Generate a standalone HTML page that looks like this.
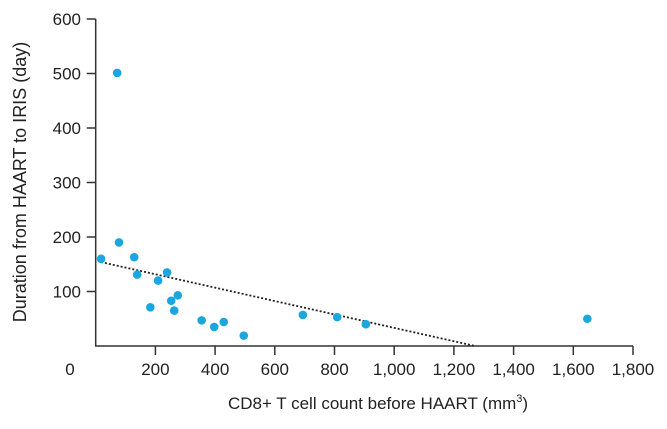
<!DOCTYPE html>
<html><head><meta charset="utf-8"><style>
body{margin:0;background:#fff}
svg text{font-family:"Liberation Sans",sans-serif;fill:#222}
</style></head><body>
<svg id="chart" width="667" height="424" viewBox="0 0 667 424" xmlns="http://www.w3.org/2000/svg"></svg>
<script>
const xs=[18,78,129,139,183,209,239,253,263,275,355,397,429,496,694,809,905,1647,72];
const ys=[160,190,163,131,71,120,135,83,65,93,47,35,44,19,57,53,40,50,501];
const xTicks=[200,400,600,800,1000,1200,1400,1600,1800];
const xTickLabels=["200","400","600","800","1,000","1,200","1,400","1,600","1,800"];
const yTicks=[100,200,300,400,500,600];
const trendStart=[18,154];
const trendEnd=[1271,0];
const NS="http://www.w3.org/2000/svg";
const svg=document.getElementById('chart');
const X=v=>95.7+v*0.2985;
const Y=v=>346-v*0.545;
function mk(t,a,p){const e=document.createElementNS(NS,t);for(const k in a)e.setAttribute(k,a[k]);(p||svg).appendChild(e);return e;}
let ax=mk('path',{d:`M${X(0)} ${Y(600)}V${Y(0)}H${X(1800)}`,fill:'none',stroke:'#333','stroke-width':1.5});


xTicks.forEach((v,i)=>{
 const l=mk('line',{x1:X(v),x2:X(v),y1:Y(0),y2:Y(0)+9,stroke:'#333','stroke-width':1.5});
 
 
 const t=mk('text',{x:X(v),y:375,'text-anchor':'middle','font-size':17});
 t.textContent=xTickLabels[i];
 
 
});
yTicks.forEach(v=>{
 const l=mk('line',{x1:X(0)-9,x2:X(0),y1:Y(v),y2:Y(v),stroke:'#333','stroke-width':1.5});
 
 
 const t=mk('text',{x:81,y:Y(v)+6,'text-anchor':'end','font-size':17});
 t.textContent=v;
 
 
});
let z=mk('text',{x:70,y:375,'text-anchor':'middle','font-size':17});z.textContent='0';


let tr=mk('line',{x1:X(trendStart[0]),y1:Y(trendStart[1]),x2:X(trendEnd[0]),y2:Y(trendEnd[1]),stroke:'#222','stroke-width':1.8,'stroke-dasharray':'2 2'});


xs.forEach((v,i)=>{
 const c=mk('circle',{cx:X(v),cy:Y(ys[i]),r:4.3,fill:'#1aa7e0'});
 
 
});
let xl=mk('text',{x:378,y:409,'text-anchor':'middle','font-size':17});
xl.innerHTML='CD8+ T cell count before HAART (mm<tspan dy="-7" font-size="11">3</tspan><tspan dy="7">)</tspan>';


let yl=mk('text',{x:0,y:0,'text-anchor':'middle','font-size':18,transform:'translate(26,182) rotate(-90)'});
yl.textContent='Duration from HAART to IRIS (day)';


</script>
</body></html>
